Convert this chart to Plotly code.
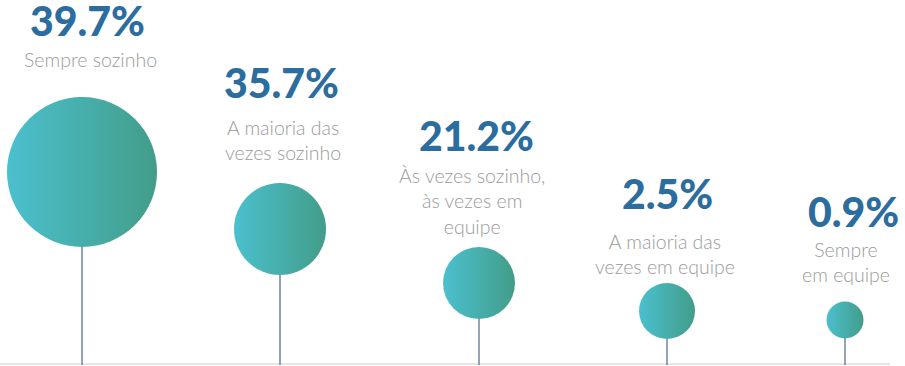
import plotly.graph_objects as go

# ---- data ----
categories = ["Sempre sozinho", "A maioria das<br>vezes sozinho",
              "Às vezes sozinho,<br>às vezes em<br>equipe",
              "A maioria das<br>vezes em equipe", "Sempre<br>em equipe"]
values = [39.7, 35.7, 21.2, 2.5, 0.9]

# ---- layout (pixel-space positions / styles) ----
x_slot = [82, 280, 479, 667, 845]
bubble_y = [172, 229, 283, 311, 320]
bubble_r = [75, 46, 36, 28, 18.5]
pct_y = [20, 82, 135, 193, 211]
pct_x = [87, 281, 476, 667, 853]
label_top = [46, 114, 162, 228, 236]
label_x = [90, 283, 472, 665, 846]
baseline_y = 364
W, H = 905, 366

PCT_COLOR = "#2a6d9e"
LABEL_COLOR = "#9b9b9b"
LEFT_C = "#4bc0ce"
RIGHT_C = "#429d89"

fig = go.Figure()

# baseline
fig.add_trace(go.Scatter(x=[0, 890], y=[baseline_y, baseline_y], mode="lines",
                         line=dict(color="#cfcfcf", width=1), hoverinfo="skip"))

# stems
sx, sy = [], []
for x, y in zip(x_slot, bubble_y):
    sx += [x, x, None]
    sy += [baseline_y + 1, y, None]
fig.add_trace(go.Scatter(x=sx, y=sy, mode="lines",
                         line=dict(color="#5a7293", width=1.3), hoverinfo="skip"))

# bubbles (horizontal gradient: cyan on the left, green-teal on the right)
fig.add_trace(go.Scatter(
    x=x_slot, y=bubble_y, mode="markers",
    marker=dict(size=[2 * r for r in bubble_r], color=LEFT_C,
                gradient=dict(type="horizontal", color=RIGHT_C),
                line=dict(width=0), opacity=1),
    text=categories, customdata=values, hoverinfo="skip"))

for i, v in enumerate(values):
    fig.add_annotation(x=pct_x[i], y=pct_y[i], text=f"{v:.1f}%", showarrow=False,
                       xanchor="center", yanchor="middle", height=36, valign="middle",
                       borderpad=0,
                       font=dict(family="Lato", size=41, color=PCT_COLOR, weight=900))
    fig.add_annotation(x=label_x[i], y=label_top[i], text=categories[i], showarrow=False,
                       xanchor="center", yanchor="top", align="center",
                       font=dict(family="Lato", size=19.5, color=LABEL_COLOR, weight=300))

fig.update_layout(
    width=W, height=H, margin=dict(l=0, r=0, t=0, b=0),
    paper_bgcolor="white", plot_bgcolor="white", showlegend=False,
    xaxis=dict(range=[0, W], visible=False, fixedrange=True),
    yaxis=dict(range=[H, 0], visible=False, fixedrange=True),
)

fig.write_html("out.html")
